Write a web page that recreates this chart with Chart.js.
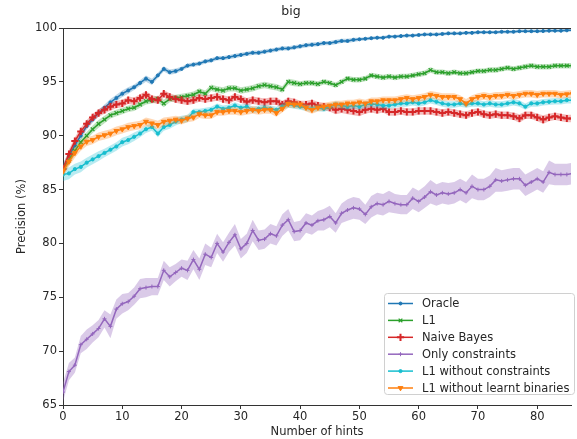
<!DOCTYPE html>
<html>
<head>
<meta charset="utf-8">
<script src="https://cdn.jsdelivr.net/npm/chart.js@4.4.1/dist/chart.umd.min.js"></script>
<style>
  html, body { margin: 0; padding: 0; background: #fff; }
  #wrap { width: 577px; height: 439px; }
</style>
</head>
<body>
<div id="wrap"><canvas id="chart" width="577" height="439"></canvas></div>
<script>
// number of hints (x axis)
const hints = [
  0, 1, 2, 3, 4, 5, 6, 7, 8, 9,
  10, 11, 12, 13, 14, 15, 16, 17, 18, 19,
  20, 21, 22, 23, 24, 25, 26, 27, 28, 29,
  30, 31, 32, 33, 34, 35, 36, 37, 38, 39,
  40, 41, 42, 43, 44, 45, 46, 47, 48, 49,
  50, 51, 52, 53, 54, 55, 56, 57, 58, 59,
  60, 61, 62, 63, 64, 65, 66, 67, 68, 69,
  70, 71, 72, 73, 74, 75, 76, 77, 78, 79,
  80, 81, 82, 83, 84, 85, 86
];

const oracle = [
  87.0, 88.1, 89.1, 90.0, 90.9, 91.5, 92.1, 92.6, 93.1, 93.5,
  93.9, 94.2, 94.5, 94.9, 95.3, 95.0, 95.6, 96.2, 95.9, 96.0,
  96.2, 96.5, 96.6, 96.7, 96.9, 97.0, 97.2, 97.2, 97.3, 97.4,
  97.5, 97.6, 97.7, 97.7, 97.8, 97.9, 98.0, 98.1, 98.1, 98.2,
  98.3, 98.4, 98.45, 98.5, 98.6, 98.6, 98.7, 98.8, 98.8, 98.9,
  98.95, 99.0, 99.05, 99.1, 99.1, 99.2, 99.2, 99.25, 99.3, 99.3,
  99.35, 99.4, 99.4, 99.4, 99.45, 99.5, 99.5, 99.5, 99.55, 99.55,
  99.6, 99.6, 99.6, 99.6, 99.65, 99.65, 99.65, 99.7, 99.7, 99.7,
  99.7, 99.72, 99.75, 99.75, 99.75, 99.78, 99.8
];
const oracleErr = [
  0.4, 0.4, 0.35, 0.35, 0.35, 0.3, 0.3, 0.3, 0.3, 0.3,
  0.3, 0.3, 0.25, 0.25, 0.3, 0.3, 0.25, 0.25, 0.25, 0.25,
  0.2, 0.2, 0.2, 0.2, 0.2, 0.2, 0.2, 0.2, 0.2, 0.2,
  0.2, 0.2, 0.2, 0.2, 0.2, 0.2, 0.2, 0.2, 0.2, 0.2,
  0.2, 0.2, 0.2, 0.2, 0.2, 0.2, 0.2, 0.2, 0.2, 0.2,
  0.15, 0.15, 0.15, 0.15, 0.15, 0.15, 0.15, 0.15, 0.15, 0.15,
  0.15, 0.15, 0.15, 0.15, 0.15, 0.15, 0.15, 0.15, 0.15, 0.15,
  0.15, 0.15, 0.15, 0.15, 0.15, 0.15, 0.15, 0.15, 0.15, 0.15,
  0.15, 0.15, 0.15, 0.15, 0.15, 0.15, 0.15
];

const l1 = [
  86.8, 87.7, 88.6, 89.4, 90.0, 90.6, 91.1, 91.5, 91.9, 92.1,
  92.3, 92.5, 92.6, 92.9, 93.2, 93.3, 93.4, 93.0, 93.4, 93.5,
  93.6, 93.7, 93.8, 94.1, 93.9, 94.45, 94.3, 94.2, 94.4, 94.4,
  94.2, 94.3, 94.4, 94.6, 94.7, 94.6, 94.5, 94.3, 95.0, 94.9,
  94.8, 94.9, 94.9, 94.8, 95.0, 94.9, 94.7, 95.0, 95.3, 95.2,
  95.2, 95.3, 95.6, 95.5, 95.4, 95.5, 95.4, 95.5, 95.5, 95.6,
  95.7, 95.8, 96.1, 95.9, 95.9, 95.8, 95.9, 95.8, 95.8, 95.9,
  96.0, 96.0, 96.1, 96.1, 96.2, 96.3, 96.2, 96.3, 96.4, 96.5,
  96.4, 96.4, 96.4, 96.5, 96.5, 96.5, 96.5
];
const l1Err = [
  0.4, 0.4, 0.4, 0.35, 0.35, 0.35, 0.35, 0.35, 0.3, 0.3,
  0.3, 0.3, 0.3, 0.3, 0.3, 0.3, 0.3, 0.35, 0.3, 0.3,
  0.3, 0.3, 0.3, 0.3, 0.3, 0.3, 0.3, 0.3, 0.3, 0.3,
  0.3, 0.3, 0.3, 0.3, 0.3, 0.3, 0.3, 0.3, 0.3, 0.3,
  0.25, 0.25, 0.25, 0.25, 0.25, 0.25, 0.25, 0.25, 0.25, 0.25,
  0.25, 0.25, 0.25, 0.25, 0.25, 0.25, 0.25, 0.25, 0.25, 0.25,
  0.25, 0.25, 0.25, 0.25, 0.25, 0.25, 0.25, 0.25, 0.25, 0.25,
  0.25, 0.25, 0.25, 0.25, 0.25, 0.25, 0.25, 0.25, 0.25, 0.25,
  0.25, 0.25, 0.25, 0.25, 0.25, 0.25, 0.25
];

const naiveBayes = [
  86.9, 88.3, 89.5, 90.4, 91.1, 91.7, 92.1, 92.4, 92.7, 92.9,
  93.0, 93.3, 93.2, 93.5, 93.8, 93.4, 93.3, 93.9, 93.6, 93.4,
  93.3, 93.2, 93.3, 93.5, 93.4, 93.5, 93.6, 93.4, 93.3, 93.6,
  93.4, 93.15, 93.3, 93.2, 93.1, 93.2, 93.2, 92.9, 93.2, 93.1,
  92.9, 92.9, 93.0, 92.8, 92.7, 92.6, 92.4, 92.5, 92.4, 92.3,
  92.2, 92.4, 92.5, 92.4, 92.5, 92.2, 92.2, 92.3, 92.2, 92.2,
  92.3, 92.3, 92.3, 92.2, 92.1, 92.2, 92.1, 92.0, 91.9, 92.1,
  92.2, 92.0, 91.9, 92.0, 91.9, 91.9, 91.8, 91.6, 91.9, 91.9,
  91.7, 91.5, 91.7, 91.8, 91.7, 91.6, 91.6
];
const naiveBayesErr = [
  0.4, 0.4, 0.35, 0.35, 0.35, 0.35, 0.35, 0.35, 0.35, 0.35,
  0.35, 0.35, 0.35, 0.35, 0.35, 0.35, 0.35, 0.35, 0.35, 0.35,
  0.35, 0.35, 0.35, 0.35, 0.35, 0.35, 0.35, 0.35, 0.35, 0.35,
  0.35, 0.35, 0.35, 0.35, 0.35, 0.35, 0.35, 0.35, 0.35, 0.35,
  0.35, 0.35, 0.35, 0.35, 0.35, 0.35, 0.4, 0.4, 0.4, 0.4,
  0.4, 0.35, 0.35, 0.35, 0.35, 0.35, 0.35, 0.35, 0.35, 0.35,
  0.35, 0.35, 0.35, 0.35, 0.35, 0.35, 0.35, 0.35, 0.35, 0.35,
  0.35, 0.35, 0.35, 0.35, 0.35, 0.35, 0.35, 0.4, 0.35, 0.35,
  0.35, 0.4, 0.35, 0.35, 0.35, 0.35, 0.35
];

const onlyConstraints = [
  66.2, 68.1, 68.7, 70.6, 71.1, 71.6, 72.1, 73.0, 72.3, 73.9,
  74.4, 74.6, 75.1, 75.8, 75.9, 76.0, 76.0, 77.5, 76.9, 77.3,
  77.7, 77.5, 78.5, 77.6, 79.0, 78.7, 80.0, 79.2, 80.1, 80.8,
  79.5, 80.0, 81.2, 80.3, 80.4, 80.9, 80.7, 81.7, 82.2, 81.1,
  81.2, 81.9, 81.7, 82.1, 82.2, 82.5, 81.9, 82.8, 83.1, 83.3,
  83.2, 82.7, 83.4, 83.7, 83.6, 83.9, 83.7, 83.6, 83.6, 84.2,
  83.9, 84.3, 84.8, 84.5, 84.7, 84.6, 84.7, 85.0, 84.7, 85.3,
  85.0, 85.0, 85.3, 85.9, 85.8, 85.9, 86.0, 86.0, 85.4, 85.7,
  86.0, 85.7, 86.6, 86.4, 86.4, 86.4, 86.5
];
const onlyConstraintsErr = [
  0.9, 0.8, 0.7, 0.8, 0.9, 0.8, 0.8, 0.8, 1.1, 0.9,
  0.9, 0.8, 0.8, 0.9, 0.9, 0.8, 0.8, 0.9, 0.9, 0.8,
  0.8, 0.9, 0.9, 1.0, 1.0, 0.9, 0.9, 0.9, 0.9, 1.0,
  0.9, 0.9, 1.0, 0.9, 0.9, 0.9, 0.9, 1.0, 1.0, 0.9,
  0.9, 0.9, 0.9, 0.9, 1.0, 1.0, 0.9, 0.9, 1.0, 1.0,
  1.0, 0.9, 1.0, 1.0, 1.0, 1.0, 0.9, 0.9, 0.9, 1.0,
  1.0, 1.0, 1.1, 1.0, 1.0, 1.0, 1.0, 1.0, 1.0, 1.1,
  1.0, 1.0, 1.0, 1.1, 1.0, 1.0, 1.0, 1.0, 1.0, 1.0,
  1.0, 1.0, 1.1, 1.0, 1.0, 1.0, 1.0
];

const l1NoConstraints = [
  86.4, 86.5, 86.9, 87.1, 87.5, 87.8, 88.1, 88.4, 88.7, 89.0,
  89.4, 89.6, 89.9, 90.2, 90.6, 90.8, 90.2, 90.8, 91.0, 91.3,
  91.5, 91.6, 92.2, 92.2, 92.3, 92.4, 92.7, 92.5, 92.6, 92.8,
  92.6, 92.7, 92.4, 92.5, 92.6, 92.5, 92.4, 92.7, 92.9, 92.8,
  92.7, 92.6, 92.5, 92.6, 92.5, 92.7, 92.9, 92.8, 92.7, 92.8,
  92.7, 92.9, 92.95, 92.9, 92.8, 92.8, 92.9, 93.0, 93.0, 93.1,
  93.0, 93.1, 93.3, 93.15, 93.0, 92.9, 92.9, 93.0, 92.9, 93.0,
  93.0, 92.9, 93.0, 92.9, 92.9, 93.0, 93.1, 93.0, 92.7, 93.0,
  93.0, 93.1, 93.15, 93.2, 93.2, 93.3, 93.3
];
const l1NoConstraintsErr = [
  0.6, 0.55, 0.5, 0.5, 0.45, 0.45, 0.45, 0.4, 0.4, 0.4,
  0.4, 0.4, 0.4, 0.35, 0.35, 0.35, 0.35, 0.35, 0.35, 0.35,
  0.35, 0.35, 0.3, 0.3, 0.3, 0.3, 0.3, 0.3, 0.3, 0.3,
  0.3, 0.3, 0.3, 0.3, 0.3, 0.3, 0.3, 0.3, 0.3, 0.3,
  0.3, 0.3, 0.3, 0.3, 0.3, 0.3, 0.3, 0.3, 0.3, 0.3,
  0.3, 0.3, 0.3, 0.3, 0.3, 0.3, 0.3, 0.3, 0.3, 0.3,
  0.3, 0.3, 0.3, 0.3, 0.3, 0.3, 0.3, 0.3, 0.3, 0.3,
  0.3, 0.3, 0.3, 0.3, 0.3, 0.3, 0.3, 0.3, 0.3, 0.3,
  0.3, 0.3, 0.3, 0.3, 0.3, 0.3, 0.3
];

const l1NoBinaries = [
  86.7, 87.6, 88.4, 89.0, 89.45, 89.6, 89.9, 90.05, 90.2, 90.45,
  90.6, 90.8, 90.9, 91.0, 91.3, 91.15, 91.0, 91.3, 91.4, 91.5,
  91.4, 91.6, 91.7, 92.0, 91.9, 91.9, 92.2, 92.2, 92.3, 92.3,
  92.2, 92.3, 92.4, 92.3, 92.4, 92.4, 92.1, 92.5, 92.95, 92.9,
  92.9, 92.6, 92.4, 92.6, 92.7, 92.8, 92.9, 92.9, 93.0, 93.0,
  93.1, 93.0, 93.2, 93.2, 93.3, 93.3, 93.3, 93.4, 93.5, 93.4,
  93.5, 93.6, 93.8, 93.7, 93.6, 93.6, 93.6, 93.4, 93.0, 93.4,
  93.6, 93.7, 93.6, 93.7, 93.7, 93.8, 93.7, 93.8, 93.9, 93.9,
  93.8, 93.9, 93.9, 93.9, 93.8, 93.85, 93.9
];
const l1NoBinariesErr = [
  0.5, 0.45, 0.45, 0.4, 0.4, 0.4, 0.4, 0.4, 0.4, 0.4,
  0.4, 0.4, 0.4, 0.4, 0.4, 0.4, 0.4, 0.4, 0.35, 0.35,
  0.35, 0.35, 0.35, 0.35, 0.35, 0.35, 0.35, 0.35, 0.35, 0.35,
  0.35, 0.35, 0.35, 0.35, 0.35, 0.35, 0.35, 0.35, 0.35, 0.35,
  0.35, 0.35, 0.35, 0.35, 0.35, 0.35, 0.35, 0.35, 0.35, 0.35,
  0.35, 0.35, 0.35, 0.35, 0.35, 0.35, 0.35, 0.35, 0.35, 0.35,
  0.35, 0.35, 0.35, 0.35, 0.35, 0.35, 0.35, 0.35, 0.4, 0.35,
  0.35, 0.35, 0.35, 0.35, 0.35, 0.35, 0.35, 0.35, 0.35, 0.35,
  0.35, 0.35, 0.35, 0.35, 0.35, 0.35, 0.35
];

const yTicks = [65, 70, 75, 80, 85, 90, 95, 100];
const xTicks = [0, 10, 20, 30, 40, 50, 60, 70, 80];

// series in plotting order (last one ends up on top)
const seriesNames = ['Oracle', 'L1', 'Naive Bayes', 'Only constraints', 'L1 without constraints', 'L1 without learnt binaries'];
const seriesValues = [oracle, l1, naiveBayes, onlyConstraints, l1NoConstraints, l1NoBinaries];
const seriesErrors = [oracleErr, l1Err, naiveBayesErr, onlyConstraintsErr, l1NoConstraintsErr, l1NoBinariesErr];

// styles (matplotlib tab10 look)
const seriesColors = ['#1f77b4', '#2ca02c', '#d62728', '#9467bd', '#17becf', '#ff7f0e'];
const bandColors = ['rgba(31,119,180,0.3)', 'rgba(44,160,44,0.3)', 'rgba(214,39,40,0.3)',
                    'rgba(148,103,189,0.35)', 'rgba(23,190,207,0.3)', 'rgba(255,127,14,0.3)'];
const markerStyles = [
  { pointStyle: 'circle', radius: 1.5, rotation: 0, borderWidth: 1 },
  { pointStyle: 'crossRot', radius: 2.6, rotation: 0, borderWidth: 1.2 },
  { pointStyle: 'cross', radius: 3.6, rotation: 0, borderWidth: 2 },
  { pointStyle: 'cross', radius: 2, rotation: 0, borderWidth: 1 },
  { pointStyle: 'circle', radius: 1.6, rotation: 0, borderWidth: 1 },
  { pointStyle: 'triangle', radius: 2.8, rotation: 180, borderWidth: 1 }
];

const FONT = '"DejaVu Sans", sans-serif';
const TEXT = '#262626';
const FS = 11.5;

// build datasets: later series first so they are drawn on top,
// each line precedes its band so the line sits above its own band
const datasets = [];
for (let i = seriesNames.length - 1; i >= 0; i--) {
  const vals = seriesValues[i];
  const err = seriesErrors[i];
  const m = markerStyles[i];
  datasets.push({
    label: seriesNames[i],
    data: hints.map((h, k) => ({ x: h, y: vals[k] })),
    borderColor: seriesColors[i],
    backgroundColor: seriesColors[i],
    borderWidth: 1.5,
    pointStyle: m.pointStyle,
    pointRadius: m.radius,
    pointRotation: m.rotation,
    pointBorderWidth: m.borderWidth,
    pointBackgroundColor: seriesColors[i],
    pointBorderColor: seriesColors[i],
    tension: 0,
    fill: false
  });
  datasets.push({
    label: seriesNames[i] + ' upper',
    data: hints.map((h, k) => ({ x: h, y: vals[k] + err[k] })),
    borderWidth: 0,
    pointRadius: 0,
    fill: false
  });
  datasets.push({
    label: seriesNames[i] + ' lower',
    data: hints.map((h, k) => ({ x: h, y: vals[k] - err[k] })),
    borderWidth: 0,
    pointRadius: 0,
    backgroundColor: bandColors[i],
    fill: '-1'
  });
}

const decorPlugin = {
  id: 'decor',
  afterDraw(chart) {
    const ctx = chart.ctx;
    const area = chart.chartArea;
    ctx.save();

    // top spine
    ctx.strokeStyle = '#333';
    ctx.lineWidth = 1;
    ctx.beginPath();
    ctx.moveTo(area.left, area.top + 0.5);
    ctx.lineTo(area.right, area.top + 0.5);
    ctx.stroke();

    // title
    ctx.fillStyle = TEXT;
    ctx.font = '12.5px ' + FONT;
    ctx.textAlign = 'center';
    ctx.textBaseline = 'middle';
    ctx.fillText('big', 291, 12);

    // legend box
    const bx = 384, by = 293, bw = 190, bh = 101;
    ctx.fillStyle = 'rgba(255,255,255,0.85)';
    ctx.strokeStyle = '#d0d0d0';
    ctx.lineWidth = 1;
    ctx.beginPath();
    ctx.roundRect(bx + 0.5, by + 0.5, bw, bh, 3);
    ctx.fill();
    ctx.stroke();

    ctx.font = FS + 'px ' + FONT;
    ctx.textAlign = 'left';
    seriesNames.forEach((name, i) => {
      const y = 303.5 + i * 16.9;
      ctx.strokeStyle = seriesColors[i];
      ctx.lineWidth = 1.5;
      ctx.beginPath();
      ctx.moveTo(388, y);
      ctx.lineTo(413, y);
      ctx.stroke();
      const m = markerStyles[i];
      ctx.fillStyle = seriesColors[i];
      ctx.lineWidth = m.borderWidth;
      Chart.helpers.drawPoint(ctx, m, 400.5, y);
      ctx.fillStyle = TEXT;
      ctx.fillText(name, 422, y + 1);
    });
    ctx.restore();
  }
};

new Chart(document.getElementById('chart'), {
  type: 'line',
  data: { datasets: datasets },
  plugins: [decorPlugin],
  options: {
    responsive: false,
    animation: false,
    events: [],
    devicePixelRatio: 1,
    layout: { padding: { top: 28, right: 0, bottom: 0, left: 0 } },
    plugins: {
      legend: { display: false },
      tooltip: { enabled: false },
      title: { display: false }
    },
    scales: {
      x: {
        type: 'linear',
        min: 0,
        max: 85.7,
        afterBuildTicks: (scale) => { scale.ticks = xTicks.map(v => ({ value: v })); },
        afterFit: (scale) => { scale.height = 34; },
        ticks: {
          color: TEXT,
          font: { family: FONT, size: FS },
          padding: 1,
          maxRotation: 0,
          autoSkip: false
        },
        grid: { drawOnChartArea: false, drawTicks: true, tickLength: 4, color: '#333' },
        border: { color: '#333', width: 1 },
        title: {
          display: true,
          text: 'Number of hints',
          color: TEXT,
          font: { family: FONT, size: FS },
          padding: { top: 0, bottom: 0 }
        }
      },
      y: {
        min: 65,
        max: 100,
        afterBuildTicks: (scale) => { scale.ticks = yTicks.map(v => ({ value: v })); },
        afterFit: (scale) => { scale.width = 63; },
        ticks: {
          color: TEXT,
          font: { family: FONT, size: FS },
          padding: 2,
          autoSkip: false
        },
        grid: { drawOnChartArea: false, drawTicks: true, tickLength: 4, color: '#333' },
        border: { color: '#333', width: 1 },
        title: {
          display: true,
          text: 'Precision (%)',
          color: TEXT,
          font: { family: FONT, size: FS },
          padding: { top: 15, bottom: 0 }
        }
      }
    }
  }
});
</script>
</body>
</html>
